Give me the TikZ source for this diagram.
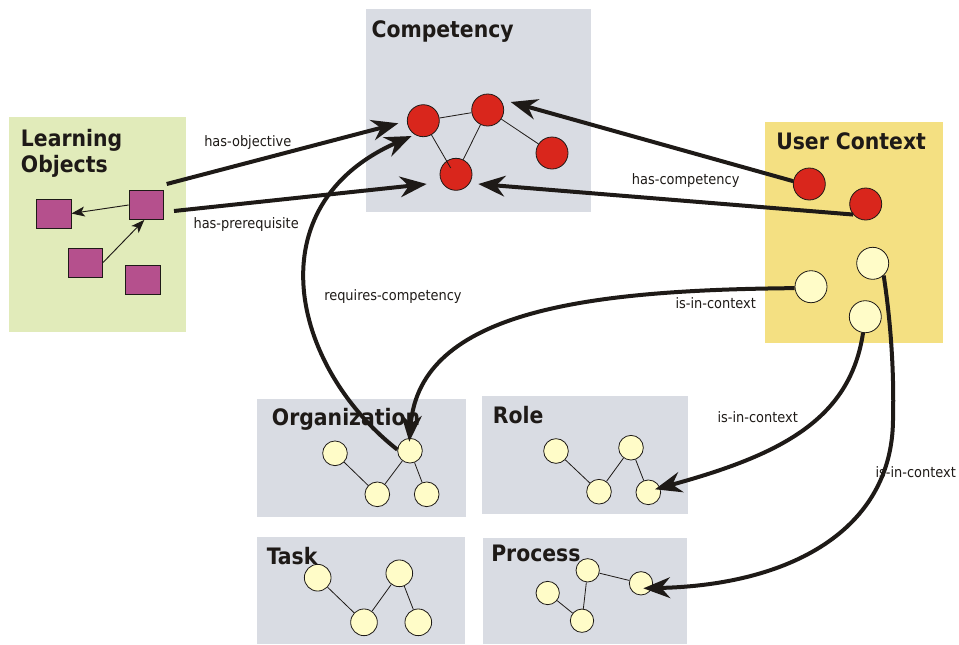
\documentclass[tikz,border=0pt]{standalone}
\usepackage{fontspec}
\usetikzlibrary{arrows.meta}
\newfontfamily\ttlfont{DejaVu Sans Condensed}[BoldFont={DejaVu Sans Condensed Bold}]
\newfontfamily\lblfont{DejaVu Sans Condensed}

\definecolor{ink}{HTML}{1E1A17}
\definecolor{lobg}{HTML}{E1EBBA}
\definecolor{greybg}{HTML}{D9DCE3}
\definecolor{userbg}{HTML}{F4E082}
\definecolor{lomag}{HTML}{B5508D}
\definecolor{compred}{HTML}{D9261C}
\definecolor{cream}{HTML}{FFFCC8}

\begin{document}
\begin{tikzpicture}[x=0.75pt,y=-0.75pt,
  ttl/.style={anchor=base west, inner sep=0, text=ink, font=\ttlfont\bfseries\fontsize{17}{21}\selectfont},
  lbl/.style={anchor=base west, inner sep=0, text=ink, font=\lblfont\fontsize{10.8}{12}\selectfont},
  sq/.style={rectangle, draw=ink, line width=0.6pt, fill=lomag, minimum width=26pt, minimum height=21.75pt, inner sep=0},
  redc/.style={circle, draw=ink, line width=0.6pt, fill=compred, minimum size=24pt, inner sep=0},
  yelc/.style={circle, draw=ink, line width=0.6pt, fill=cream, minimum size=#1, inner sep=0},
  yelc/.default=24pt,
  link/.style={draw=ink, line width=0.6pt},
  smallarrow/.style={draw=ink, line width=0.7pt, -{Stealth[length=10pt,width=7.5pt,inset=2.5pt]}},
  bigarrow/.style={draw=ink, line width=3pt, -{Stealth[length=20pt,width=15.5pt,inset=6.5pt]}}
]
\useasboundingbox (0,0) rectangle (959,644);

% panels
\fill[lobg]   (9,117.3) rectangle (185.7,332.3);
\fill[greybg] (366,9) rectangle (591,212.3);
\fill[userbg] (765.3,122) rectangle (942.7,343.3);
\fill[greybg] (257.3,399) rectangle (465.7,516.7);
\fill[greybg] (482.3,396) rectangle (687.7,514);
\fill[greybg] (257.3,536.7) rectangle (465,644);
\fill[greybg] (483.3,538) rectangle (686.7,644);

% panel titles
\node[ttl, align=left] (tlo) at (20.7,172.7) {Learning\\[-1.5pt]Objects};
\node[ttl] (tcomp) at (371.3,37.3) {Competency};
\node[ttl] (tuser) at (776,149) {User Context};
\node[ttl] (torg) at (271.7,425) {Organization};
\node[ttl] (trole) at (492.7,423) {Role};
\node[ttl] (ttask) at (266.7,564) {Task};
\node[ttl] (tproc) at (491,561.7) {Process};

% learning objects
\node[sq] (S1) at (53.7,213.5) {};
\node[sq] (S2) at (146.3,205) {};
\node[sq] (S3) at (85.3,262.5) {};
\node[sq] (S4) at (142.8,279.5) {};
\draw[smallarrow] (S2.west) -- (S1.east);
\draw[smallarrow] (S3.east) -- ([xshift=-1.5pt]S2.south);

% competency graph
\node[redc] (C1) at (423.3,120.7) {};
\node[redc] (C2) at (487.7,110) {};
\node[redc] (C3) at (456,174.3) {};
\node[redc] (C4) at (552,153) {};
\draw[link] (C1) -- (C2);
\draw[link] (C2) -- (C3);
\draw[link] (C2) -- (C4);
\draw[link] (C1.-60) -- (450.7,168);

% user context
\node[redc] (U1) at (809.3,184) {};
\node[redc] (U2) at (865.7,204) {};
\node[yelc=24pt] (U3) at (811,286.7) {};
\node[yelc=24pt] (U4) at (872.7,263.3) {};
\node[yelc=24pt] (U5) at (865.3,316.7) {};

% organization
\node[yelc=18.5pt] (O1) at (335,453.3) {};
\node[yelc=18.5pt] (O2) at (410,450.7) {};
\node[yelc=18.5pt] (O3) at (377.3,494.3) {};
\node[yelc=18.5pt] (O4) at (426.7,494.3) {};
\draw[link] (O1) -- (O3);
\draw[link] (O3) -- (O2);
\draw[link] (O2) -- (O4);

% role
\node[yelc=18.5pt] (R1) at (556,451) {};
\node[yelc=18.5pt] (R2) at (631,447.7) {};
\node[yelc=18.5pt] (R3) at (599,491.7) {};
\node[yelc=18.5pt] (R4) at (648.3,492.3) {};
\draw[link] (R1) -- (R3);
\draw[link] (R3) -- (R2);
\draw[link] (R2) -- (R4);

% task
\node[yelc=20pt] (T1) at (317.7,577.7) {};
\node[yelc=20pt] (T2) at (399.3,573.3) {};
\node[yelc=20pt] (T3) at (364,622.3) {};
\node[yelc=20pt] (T4) at (418.3,622.3) {};
\draw[link] (T1) -- (T3);
\draw[link] (T3) -- (T2);
\draw[link] (T2) -- (T4);

% process
\node[yelc=17.5pt] (P1) at (587.7,570.3) {};
\node[yelc=17.5pt] (P2) at (641,583.3) {};
\node[yelc=17.5pt] (P3) at (547.7,593) {};
\node[yelc=17.5pt] (P4) at (582,620.7) {};
\draw[link] (P1) -- (P2);
\draw[link] (P1) -- (P4);
\draw[link] (P3) -- (P4);

% connector ends
\coordinate (hoS) at (166.7,184);
\coordinate (hoT) at (398.3,123.3);
\coordinate (hpS) at (174,211);
\coordinate (hpT) at (426.7,184);
\coordinate (hcT) at (510.7,102);
\coordinate (hc2T) at (478.3,184);
\coordinate (rcT) at (411.7,136);
\coordinate (icOrg) at (409.3,441.7);
\coordinate (icRole) at (655,489.3);
\coordinate (icBend) at (893,420);
\coordinate (icProc) at (643.3,588.3);

% relations
\draw[bigarrow] (hoS) -- (hoT);
\draw[bigarrow] (hpS) -- (hpT);
\draw[bigarrow] (U1.170) -- (hcT);
\draw[bigarrow] (U2.220) -- (hc2T);
\draw[bigarrow] (O2.175) .. controls (290,365) and (255,205) .. (rcT);
\draw[bigarrow] (U3.185) .. controls (590,290) and (420,310) .. (icOrg);
\draw[bigarrow] (U5.262) .. controls (850,420) and (780,455) .. (icRole);
\draw[bigarrow] (U4.-48) .. controls (892,330) and (894,380) .. (icBend)
  .. controls (892,530) and (790,585) .. (icProc);

% relation labels
\node[lbl] (lho) at (204,146) {has-objective};
\node[lbl] (lhp) at (193.3,228.3) {has-prerequisite};
\node[lbl] (lrc) at (324,300) {requires-competency};
\node[lbl] (lhc) at (631.7,184) {has-competency};
\node[lbl] (lic1) at (675.3,308.3) {is-in-context};
\node[lbl] (lic2) at (717.3,422.7) {is-in-context};
\node[lbl] (lic3) at (875.3,477.7) {is-in-context};
\end{tikzpicture}
\end{document}
